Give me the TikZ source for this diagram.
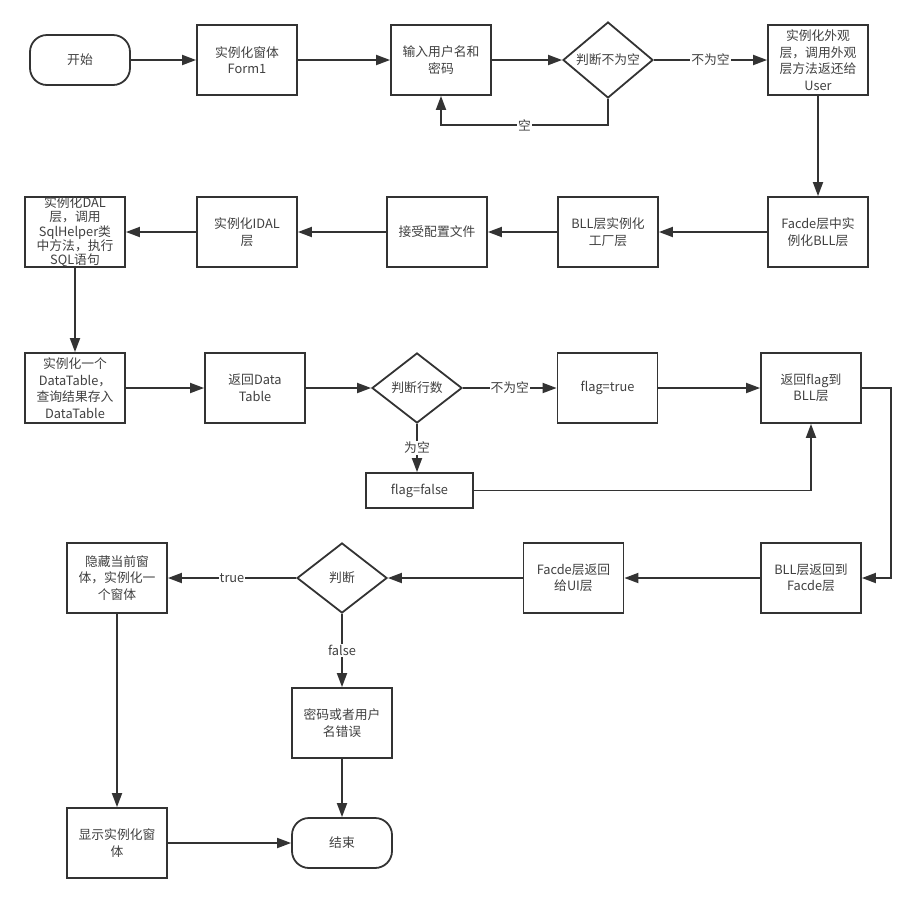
\documentclass[tikz,border=0pt]{standalone}
\usepackage{fontspec}
\newfontfamily\cjk{Noto Sans CJK SC}
\usetikzlibrary{shapes.geometric,arrows.meta}
\definecolor{ink}{HTML}{333333}
\definecolor{txt}{HTML}{404040}
\tikzset{
  every node/.style={font=\cjk\fontsize{12.8}{16.5}\selectfont, text=txt, align=center},
  box/.style={draw=ink, line width=1.8pt, rectangle, minimum width=100pt, minimum height=70pt, inner sep=0pt},
  term/.style={draw=ink, line width=1.8pt, rectangle, rounded corners=17pt, minimum width=100pt, minimum height=50pt, inner sep=0pt},
  dia/.style={draw=ink, line width=1.8pt, diamond, minimum width=90pt, minimum height=70pt, inner sep=0pt},
  conn/.style={draw=ink, line width=1.8pt, -{Triangle[length=14pt,width=10pt]}},
  elab/.style={fill=white, inner sep=1pt}
}
\begin{document}
\begin{tikzpicture}[x=1pt,y=-1pt]
\useasboundingbox (0,0) rectangle (916,903);
% row 1
\node[term] (start) at (80,60) {开始};
\node[box] (form1) at (247,60) {实例化窗体\\Form1};
\node[box] (input) at (441,60) {输入用户名和\\密码};
\node[dia] (d1) at (608,60) {判断不为空};
\node[box] (facade) at (818,60) {实例化外观\\层，调用外观\\层方法返还给\\User};
% row 2
\node[box] (facdebll) at (818,232) {Facde层中实\\例化BLL层};
\node[box] (bllfac) at (608,232) {BLL层实例化\\工厂层};
\node[box] (config) at (437,232) {接受配置文件};
\node[box] (idal) at (247,232) {实例化IDAL\\层};
\node[box, font=\cjk\fontsize{12.8}{14.3}\selectfont] (dal) at (75,232) {实例化DAL\\层，调用\\SqlHelper类\\中方法，执行\\SQL语句};
% row 3
\node[box] (dt) at (75,388) {实例化一个\\DataTable，\\查询结果存入\\DataTable};
\node[box] (retdt) at (255,388) {返回Data\\Table};
\node[dia] (d2) at (417,388) {判断行数};
\node[box] (ftrue) at (607.5,388) {flag=true};
\node[box] (retflag) at (811,388) {返回flag到\\BLL层};
\node[box, minimum width=107pt, minimum height=35pt] (ffalse) at (419.5,490.5) {flag=false};
% row 4
\node[box] (bllret) at (811,578) {BLL层返回到\\Facde层};
\node[box] (facdeui) at (573.5,578) {Facde层返回\\给UI层};
\node[dia] (d3) at (342,578) {判断};
\node[box] (hide) at (117,578) {隐藏当前窗\\体，实例化一\\个窗体};
\node[box] (err) at (342,723) {密码或者用户\\名错误};
\node[term] (end) at (342,843) {结束};
\node[box] (show) at (117,843) {显示实例化窗\\体};
\coordinate (c1) at (608,125);
\coordinate (c2) at (441,125);
\coordinate (c3) at (891,388);
% connectors
\draw[conn] (start) -- (form1);
\draw[conn] (form1) -- (input);
\draw[conn] (input) -- (d1);
\draw[conn] (d1) -- node[elab] {不为空} (facade);
\draw[conn] (d1.south) -- (c1) -- node[elab] {空} (c2) -- (input.south);
\draw[conn] (facade) -- (facdebll);
\draw[conn] (facdebll) -- (bllfac);
\draw[conn] (bllfac) -- (config);
\draw[conn] (config) -- (idal);
\draw[conn] (idal) -- (dal);
\draw[conn] (dal) -- (dt);
\draw[conn] (dt) -- (retdt);
\draw[conn] (retdt) -- (d2);
\draw[conn] (d2) -- node[elab] {不为空} (ftrue);
\draw[conn] (ftrue) -- (retflag);
\draw[conn] (d2.south) -- node[elab] {为空} (ffalse.north -| d2.south);
\draw[conn] (ffalse.east) -| (retflag.south);
\draw[conn] (retflag.east) -- (c3) |- (bllret.east);
\draw[conn] (bllret) -- (facdeui);
\draw[conn] (facdeui) -- (d3);
\draw[conn] (d3) -- node[elab] {true} (hide);
\draw[conn] (d3) -- node[elab] {false} (err);
\draw[conn] (err) -- (end);
\draw[conn] (hide) -- (show);
\draw[conn] (show) -- (end);
\end{tikzpicture}
\end{document}
